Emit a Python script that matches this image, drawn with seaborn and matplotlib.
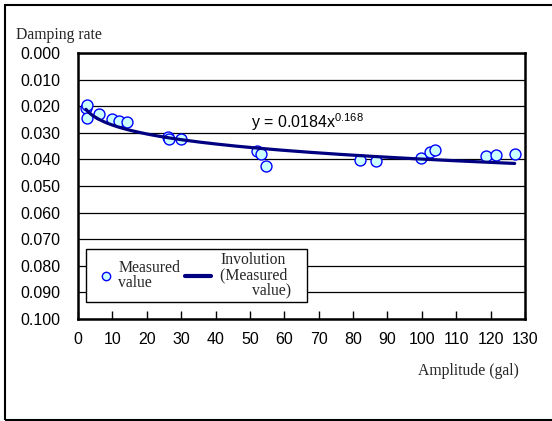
import numpy as np
import pandas as pd
import matplotlib
matplotlib.use("Agg")
import matplotlib.pyplot as plt
import seaborn as sns
from matplotlib.lines import Line2D
from matplotlib.patches import Rectangle
from matplotlib.legend_handler import HandlerLine2D
from matplotlib.ticker import FormatStrFormatter

# Measured damping rate vs. amplitude
amplitude_gal = [2.3, 2.7, 2.7, 6.1, 10.0, 11.9, 14.2, 26.2, 26.6, 30.1,
                 52.2, 53.1, 54.6, 82.0, 86.6, 99.7, 102.5, 103.9,
                 118.8, 121.5, 127.0]
damping_rate = [0.0206, 0.0194, 0.0246, 0.0228, 0.0249, 0.0256, 0.0259,
                0.0315, 0.0323, 0.0325, 0.0367, 0.0380, 0.0424, 0.0402,
                0.0406, 0.0396, 0.0371, 0.0365, 0.0387, 0.0383, 0.0380]

# Power-law trend: y = a * x^b
fit_coef = 0.0184
fit_exp = 0.168

x_ticks = list(range(0, 131, 10))
y_ticks = [0.000, 0.010, 0.020, 0.030, 0.040, 0.050,
           0.060, 0.070, 0.080, 0.090, 0.100]

sns.set_theme(style="white")
plt.rcParams["font.family"] = ["Liberation Sans", "DejaVu Sans"]
plt.rcParams["mathtext.fontset"] = "custom"
plt.rcParams["mathtext.rm"] = "Liberation Sans"
SERIF = ["Liberation Serif", "DejaVu Serif"]

W, H = 552, 421
PT = 72 / 100  # points per pixel at 100 dpi
fig = plt.figure(figsize=(W / 100, H / 100), dpi=100)
fig.patch.set_facecolor("white")
ax = fig.add_axes([78 / W, 1 - 319 / H, (525 - 78) / W, (319 - 53) / H])

meas = pd.DataFrame({"amp": amplitude_gal, "damp": damping_rate})
xs = np.linspace(min(amplitude_gal), max(amplitude_gal), 200)
fit = pd.DataFrame({"amp": xs, "damp": fit_coef * xs ** fit_exp})

sns.scatterplot(data=meas, x="amp", y="damp", ax=ax, s=62,
                color="#CCFFFF", edgecolor="#0000FF", linewidth=1.0,
                zorder=3, legend=False)
sns.lineplot(data=fit, x="amp", y="damp", ax=ax, color="#000080",
             linewidth=2.3, zorder=4, legend=False)

ax.set_xlim(0, 130)
ax.set_ylim(0.100, 0.000)
ax.set_xticks(x_ticks)
ax.set_yticks(y_ticks)
ax.yaxis.set_major_formatter(FormatStrFormatter("%.3f"))
ax.set_xlabel("")
ax.set_ylabel("")
ax.yaxis.grid(True, color="black", linewidth=0.9)
ax.xaxis.grid(False)
ax.set_axisbelow(True)
for s in ax.spines.values():
    s.set_color("black")
    s.set_linewidth(1.8)
ax.tick_params(axis="x", direction="in", length=6, width=1, color="black",
               pad=9, labelsize=11.5, labelcolor="black", bottom=True)
ax.tick_params(axis="y", length=0, pad=12.5, labelsize=11.5, labelcolor="black")

# equation of the trend line
ax.text(50.3, 0.0283,
        r"y = %.4fx$^{\mathregular{%.3f}}$" % (fit_coef, fit_exp),
        fontsize=11.5, color="black", ha="left", va="baseline")

# axis captions
fig.text(16 / W, 1 - 39 / H, "Damping rate", fontsize=11.3, family=SERIF,
         ha="left", va="baseline")
fig.text(468 / W, 1 - 375 / H, "Amplitude (gal)", fontsize=11.3, family=SERIF,
         ha="center", va="baseline")


class MarkerAt(HandlerLine2D):
    """Single legend marker shifted (points) from the handle centre."""

    def __init__(self, shift, **kw):
        super().__init__(numpoints=1, **kw)
        self.shift = shift

    def get_xdata(self, legend, xdescent, ydescent, width, height, fontsize):
        c = -xdescent + width / 2 + self.shift
        xd = [c - 0.5, c + 0.5]
        return xd, [c]


class LineSpan(HandlerLine2D):
    """Legend line drawn between two offsets (points) from the handle start."""

    def __init__(self, x0, x1, **kw):
        super().__init__(**kw)
        self.x0, self.x1 = x0, x1

    def get_xdata(self, legend, xdescent, ydescent, width, height, fontsize):
        xd = [-xdescent + self.x0, -xdescent + self.x1]
        return xd, xd


# legend
h_meas = Line2D([], [], ls="none", marker="o", ms=6, mfc="#CCFFFF",
                mec="#0000FF", mew=1.0)
h_fit = Line2D([], [], color="#000080", lw=3)
labels = ["Measured\nvalue",
          "Involution\n(Measured    \n        value)"]
leg = ax.legend([h_meas, h_fit], labels, ncol=2, loc="lower left",
                bbox_to_anchor=(86 / W, 1 - 302 / H),
                bbox_transform=fig.transFigure,
                prop={"family": SERIF, "size": 11.3},
                frameon=True, fancybox=False, edgecolor="black",
                framealpha=1, borderpad=0.2, handlelength=1.55,
                handletextpad=0.3, columnspacing=0.7, borderaxespad=0,
                handler_map={h_meas: MarkerAt(5 * PT),
                             h_fit: LineSpan(-6 * PT, 20 * PT)})
leg.get_frame().set_linewidth(1.0)
for t in leg.get_texts():
    t.set_linespacing(0.95)
    t.set_multialignment("left")

# outer chart frame
fig.add_artist(Rectangle((5 / W, 1 - 420 / H), 560 / W, 415 / H,
                         transform=fig.transFigure, fill=False,
                         edgecolor="black", linewidth=1.5))

fig.savefig("out.png", dpi=100)
